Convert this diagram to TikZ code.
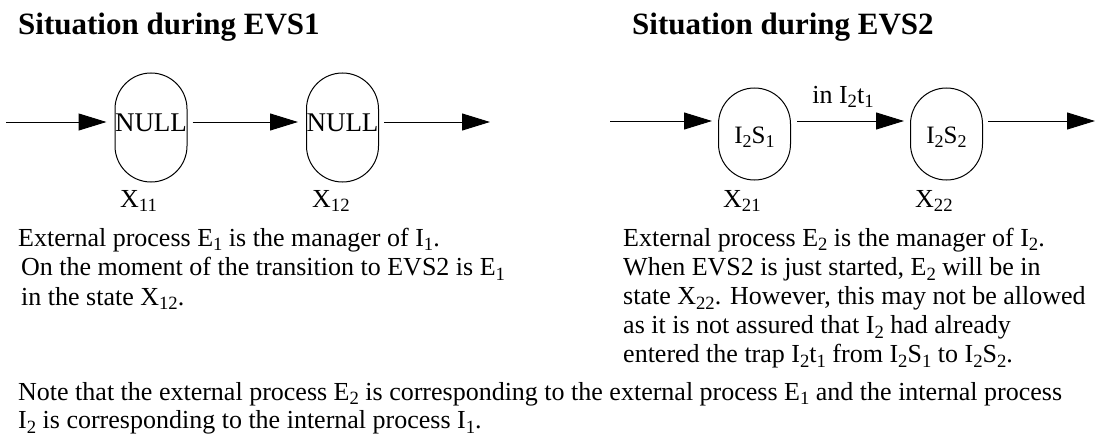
\documentclass[tikz,border=0pt]{standalone}
\usepackage{fontspec}
\setmainfont{Liberation Serif}
\usetikzlibrary{arrows.meta}

% lowered index, as in E_1, I_2, X_12
\newcommand{\dn}[1]{\raisebox{-0.18em}{\scalebox{0.72}{#1}}}

\tikzset{
  statebox/.style={draw, line width=1pt, rounded corners=36pt, minimum width=72pt,
    inner sep=0pt},
  flow/.style={line width=1pt, -{Triangle[length=28pt,width=17pt]}},
  caption/.style={anchor=base west, inner sep=0pt, font=\fontsize{26}{29}\selectfont},
  title/.style={anchor=base west, inner sep=0pt, font=\fontsize{31}{31}\selectfont\bfseries},
  statelabel/.style={anchor=base west, inner sep=0pt, font=\fontsize{26}{26}\selectfont},
  nullname/.style={inner sep=0pt, font=\fontsize{27}{27}\selectfont},
  statename/.style={anchor=base, inner sep=0pt, font=\fontsize{25}{25}\selectfont},
}

\begin{document}
\begin{tikzpicture}[x=1pt, y=-1pt]
  \useasboundingbox (0,0) rectangle (1102,436);

  % headings
  \node[title] (t1) at (18,35) {Situation during EVS1};
  \node[title] (t2) at (632,35) {Situation during EVS2};

  % EVS1 chain
  \coordinate (a0) at (6,122);
  \node[statebox, minimum height=109pt] (x11) at (151,127.5) {};
  \node[nullname] (n11) at (151,123) {NULL};
  \node[statebox, minimum height=109pt] (x12) at (342.5,127.5) {};
  \node[nullname] (n12) at (342.5,123) {NULL};
  \coordinate (a3) at (490,122);
  \draw[flow, shorten >=8pt] (a0) -- (a0 -| x11.west);
  \draw[flow, shorten >=8pt] (a0 -| x11.east) ++(5,0) -- (a0 -| x12.west);
  \draw[flow] (a0 -| x12.east) ++(5,0) -- (a3);
  \node[statelabel] (l11) at (120,207) {X\dn{11}};
  \node[statelabel] (l12) at (312,207) {X\dn{12}};

  % EVS2 chain
  \coordinate (b0) at (610,121);
  \node[statebox, minimum height=92pt] (x21) at (754.5,134) {};
  \node[statename] (s21) at (754.5,143) {I\dn{2}S\dn{1}};
  \node[statebox, minimum height=92pt] (x22) at (946.5,134) {};
  \node[statename] (s22) at (946.5,143) {I\dn{2}S\dn{2}};
  \coordinate (b3) at (1095,121);
  \draw[flow, shorten >=6pt] (b0) -- (b0 -| x21.west);
  \draw[flow, shorten >=6pt] (b0 -| x21.east) ++(6,0) -- (b0 -| x22.west);
  \draw[flow] (b0 -| x22.east) ++(5,0) -- (b3);
  \node[statename, font=\fontsize{26}{26}\selectfont] (tr) at (843,103) {in I\dn{2}t\dn{1}};
  \node[statelabel] (l21) at (723,207) {X\dn{21}};
  \node[statelabel] (l22) at (915,207) {X\dn{22}};

  % descriptions
  \node[caption] (d1a) at (18,246) {External process E\dn{1} is the manager of I\dn{1}.};
  \node[caption] (d1b) at (21,275.5) {On the moment of the transition to EVS2 is E\dn{1}};
  \node[caption] (d1c) at (21,305) {in the state X\dn{12}.};

  \node[caption] (d2a) at (623,246) {External process E\dn{2} is the manager of I\dn{2}.};
  \node[caption] (d2b) at (623,275.5) {When EVS2 is just started, E\dn{2} will be in};
  \node[caption] (d2c) at (623,304.5) {state X\dn{22}. However, this may not be allowed};
  \node[caption] (d2d) at (623,333.5) {as it is not assured that I\dn{2} had already};
  \node[caption] (d2e) at (623,362.5) {entered the trap I\dn{2}t\dn{1} from I\dn{2}S\dn{1} to I\dn{2}S\dn{2}.};

  \node[caption] (n1) at (18,400) {Note that the external process E\dn{2} is corresponding to the external process E\dn{1} and the internal process};
  \node[caption] (n2) at (18,428.5) {I\dn{2} is corresponding to the internal process I\dn{1}.};
\end{tikzpicture}
\end{document}
